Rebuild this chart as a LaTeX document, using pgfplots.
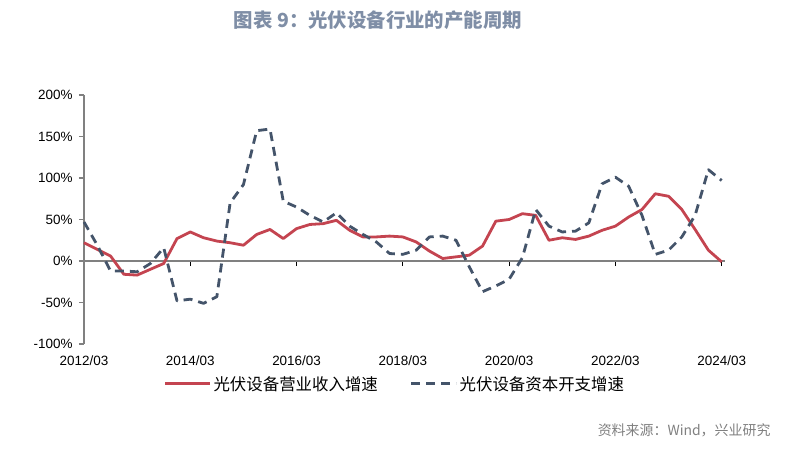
\documentclass[border=0pt]{standalone}
\usepackage{pgfplots}
\pgfplotsset{compat=1.18}
\usepackage{pgfplotstable}
\usepackage{fontspec}
\setmainfont{Liberation Sans}
\newfontfamily\cjk{Noto Sans CJK SC}
\definecolor{redline}{RGB}{196,68,80}
\definecolor{navyline}{RGB}{68,84,106}
\definecolor{titlecol}{RGB}{127,142,166}
\definecolor{axisgray}{RGB}{128,128,128}
\definecolor{srcgray}{RGB}{128,128,128}

\pgfplotstableread{
q v
0 22
1 14
2 6
3 -16
4 -17
5 -10
6 -3
7 27
8 35
9 28
10 24
11 22
12 19
13 32
14 38
15 27
16 39
17 44
18 45
19 49
20 37
21 29
22 29
23 30
24 29
25 23
26 12
27 3
28 5
29 7
30 18
31 48
32 50
33 57
34 55
35 25
36 28
37 26
38 30
39 37
40 42
41 53
42 62
43 81
44 78
45 62
46 38
47 13
48 -1
}\revdata

\pgfplotstableread{
q v
0 47
1 19
2 -12
3 -12
4 -13
5 -3
6 16
7 -48
8 -46
9 -51
10 -43
11 70
12 92
13 157
14 159
15 72
16 65
17 55
18 47
19 58
20 42
21 32
22 23
23 9
24 8
25 13
26 29
27 30
28 25
29 -7
30 -37
31 -30
32 -22
33 4
34 62
35 42
36 35
37 36
38 46
39 93
40 101
41 90
42 55
43 8
44 13
45 29
46 55
47 110
48 97
}\capexdata

\begin{document}
\begin{tikzpicture}
\path[use as bounding box] (0bp,0bp) rectangle (790bp,454bp);
\begin{axis}[
  at={(84bp,110bp)}, anchor=south west,
  scale only axis, width=641bp, height=249bp,
  xmin=0, xmax=48.25, ymin=-100, ymax=200,
  axis x line=middle, axis y line=left,
  x axis line style={-, draw=axisgray, line width=2bp},
  y axis line style={-, draw=axisgray, line width=1.5bp},
  xtick={0.001,8,16,24,32,40,48},
  xticklabels={2012/03,2014/03,2016/03,2018/03,2020/03,2022/03,2024/03},
  ytick={-100,-50,0,50,100,150,200},
  yticklabels={-100\%,-50\%,0\%,50\%,100\%,150\%,200\%},
  tick align=outside, major tick length=5bp,
  xtick style={black, line width=0.8bp},
  ytick style={axisgray, line width=1.2bp},
  xticklabel style={yshift=-86bp, font=\fontsize{13.5}{15}\selectfont, text=black},
  yticklabel style={font=\fontsize{13.5}{15}\selectfont, text=black, xshift=-3bp},
  clip=false,
  legend style={at={(0.485,-0.16)}, anchor=center, legend columns=2,
    draw=none, fill=none, font=\cjk\fontsize{16.5}{18}\selectfont,
    /tikz/every even column/.append style={column sep=30bp}},
  legend image code/.code={\draw[#1] (0bp,0bp) -- (45bp,0bp);},
]
\addplot[redline, line width=2.8bp, line join=round] table[x=q,y=v]{\revdata};
\addlegendentry{光伏设备营业收入增速}
\addplot[navyline, line width=2.8bp, dash pattern=on 9bp off 6bp, line join=round] table[x=q,y=v]{\capexdata};
\addlegendentry{光伏设备资本开支增速}
\end{axis}
\node[font=\cjk\bfseries\fontsize{19.5}{22}\selectfont, text=titlecol] at (378bp,434bp) {图表 9：光伏设备行业的产能周期};
\node[anchor=east, font=\cjk\fontsize{14}{16}\selectfont, text=srcgray] at (774bp,24bp) {资料来源：Wind，兴业研究};
\end{tikzpicture}
\end{document}
